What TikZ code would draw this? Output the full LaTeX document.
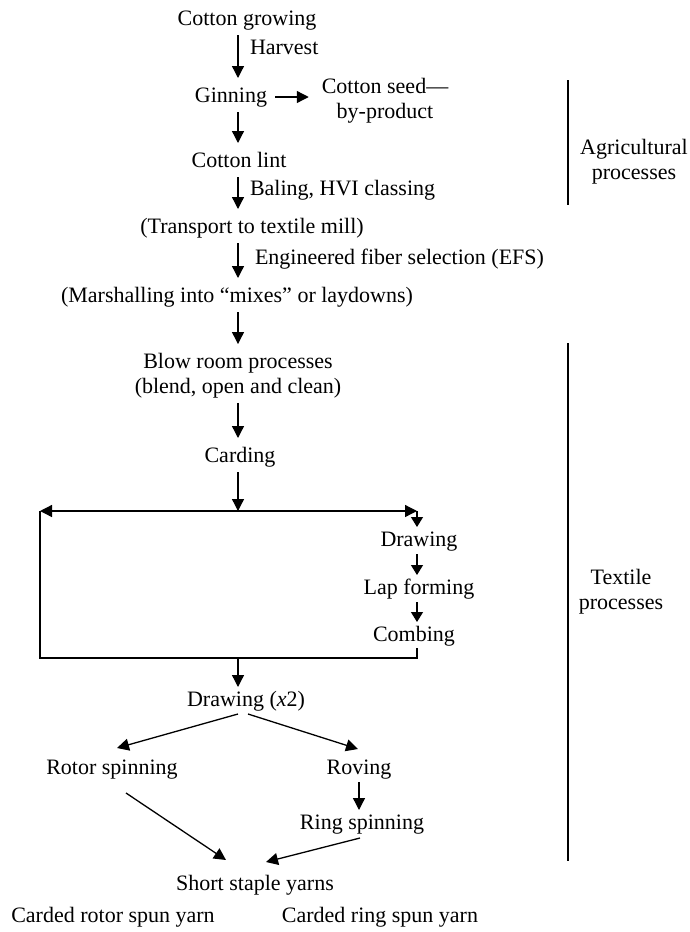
\documentclass[tikz,border=0pt]{standalone}
\usepackage{fontspec}
\setmainfont{Liberation Serif}
\usetikzlibrary{arrows.meta,calc}
\begin{document}
\begin{tikzpicture}[x=1pt,y=-1pt,
  txt/.style={inner sep=0pt, outer sep=0pt, font=\fontsize{22}{25}\selectfont,
    text height=15pt, text depth=5pt, anchor=base},
  two/.style={inner sep=0pt, outer sep=0pt, font=\fontsize{22}{25}\selectfont,
    align=center, anchor=center},
  tip/.style={-{Triangle[length=12pt,width=12pt]}},
  arr/.style={line width=1.3pt, tip, shorten <=5pt, shorten >=9pt},
  sarr/.style={line width=1.3pt, -{Triangle[length=10pt,width=12pt]}, shorten <=3pt, shorten >=4pt},
  plain/.style={line width=1.3pt},
  bracket/.style={line width=1.2pt}]
\path[use as bounding box] (0,0) rectangle (690,932);

% main column
\coordinate (col) at (238,0);
\node[txt] (grow) at (247,25) {Cotton growing};
\node[txt,anchor=base west] (harv) at (250,54) {Harvest};
\node[txt] (gin) at (231,102) {Ginning};
\node[two] (seed) at (385,101) {Cotton seed—\\by-product};
\node[txt] (lint) at (239,167) {Cotton lint};
\node[txt,anchor=base west] (bal) at (250,195) {Baling, HVI classing};
\node[txt] (trans) at (252,233) {(Transport to textile mill)};
\node[txt,anchor=base west] (efs) at (255,264) {Engineered fiber selection (EFS)};
\node[txt] (marsh) at (237,302) {(Marshalling into “mixes” or laydowns)};
\node[two] (blow) at (238,375.5) {Blow room processes\\(blend, open and clean)};
\node[txt] (card) at (240,462) {Carding};

\draw[arr] (grow.south -| col) -- (gin.north -| col);
\draw[arr,shorten <=8pt,shorten >=13pt] (gin.east) -- (seed.west |- gin.east);
\draw[arr] (gin.south -| col) -- (lint.north -| col);
\draw[arr] (lint.south -| col) -- (trans.north -| col);
\draw[arr] (trans.south -| col) -- (marsh.north -| col);
\draw[arr] (marsh.south -| col) -- (blow.north -| col);
\draw[arr] (blow.south -| col) -- (card.north -| col);

% split into carded and combed routes
\coordinate (busC) at (238,511);
\coordinate (busL) at (40,511);
\coordinate (busR) at (417,511);
\coordinate (botL) at (40,658);
\coordinate (botC) at (238,658);
\coordinate (botR) at (417,658);
\draw[arr,shorten >=0pt] (card.south -| col) -- (busC);
\draw[plain,{Triangle[length=12pt,width=12pt]}-{Triangle[length=12pt,width=12pt]}] (busL) -- (busR);

\node[txt] (draw1) at (419,546) {Drawing};
\node[txt] (lap) at (419,594) {Lap forming};
\node[txt] (comb) at (414,641) {Combing};
\draw[sarr,shorten <=0pt] (busR) -- (draw1.north -| busR);
\draw[sarr] (draw1.south -| busR) -- (lap.north -| busR);
\draw[sarr] (lap.south -| busR) -- (comb.north -| busR);
\draw[plain] (busL) -- (botL) -- (botR) -- ($(comb.south -| botR)+(0,2)$);

% spinning routes
\node[txt] (drawx) at (246,706) {Drawing (\textit{x}2)};
\node[txt] (rotor) at (112,774) {Rotor spinning};
\node[txt] (roving) at (359,774) {Roving};
\node[txt] (ring) at (362,829) {Ring spinning};
\node[txt] (short) at (255,890) {Short staple yarns};
\node[txt] (cro) at (113,922) {Carded rotor spun yarn};
\node[txt] (cri) at (380,922) {Carded ring spun yarn};

\draw[arr,shorten <=0pt,shorten >=4pt] (botC) -- (drawx.north -| botC);
\draw[arr,shorten <=0pt,shorten >=0pt] ($(drawx.south)+(-8,3)$) -- ($(rotor.north)+(5,-11)$);
\draw[arr,shorten <=0pt,shorten >=0pt] ($(drawx.south)+(2,3)$) -- ($(roving.north)+(-1,-10)$);
\draw[arr,shorten <=3pt,shorten >=4pt] (roving.south) -- (ring.north -| roving.south);
\draw[arr,shorten <=0pt,shorten >=0pt] ($(rotor.south)+(14,14)$) -- ($(short.north)+(-29,-15)$);
\draw[arr,shorten <=0pt,shorten >=0pt] ($(ring.south)+(-2,4)$) -- ($(short.north)+(11,-13)$);

% stage brackets
\coordinate (agTop) at (568,80);
\coordinate (agBot) at (568,205);
\coordinate (txTop) at (568,343);
\coordinate (txBot) at (568,861);
\draw[bracket] (agTop) -- (agBot);
\draw[bracket] (txTop) -- (txBot);
\node[two] (agri) at (634,161.5) {Agricultural\\processes};
\node[two] (tex) at (621,592) {Textile\\processes};
\end{tikzpicture}
\end{document}
